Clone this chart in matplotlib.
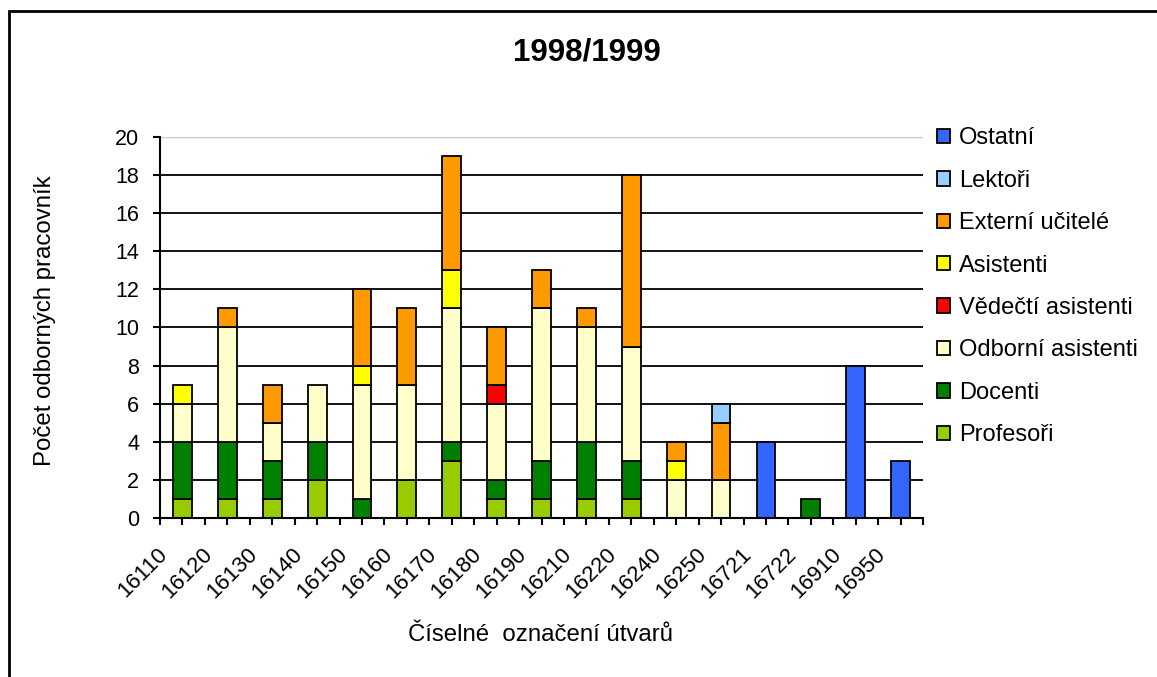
import matplotlib
matplotlib.use('Agg')
import matplotlib.pyplot as plt
import matplotlib.transforms as mtransforms
from matplotlib.patches import Rectangle, Patch
import numpy as np

plt.rcParams['font.family'] = ['Liberation Sans', 'DejaVu Sans']

# data
utvary = ['16110', '16120', '16130', '16140', '16150', '16160', '16170', '16180', '16190',
          '16210', '16220', '16240', '16250', '16721', '16722', '16910', '16950']
profesori = [1, 1, 1, 2, 0, 2, 3, 1, 1, 1, 1, 0, 0, 0, 0, 0, 0]
docenti   = [3, 3, 2, 2, 1, 0, 1, 1, 2, 3, 2, 0, 0, 0, 1, 0, 0]
odborni   = [2, 6, 2, 3, 6, 5, 7, 4, 8, 6, 6, 2, 2, 0, 0, 0, 0]
vedecti   = [0, 0, 0, 0, 0, 0, 0, 1, 0, 0, 0, 0, 0, 0, 0, 0, 0]
asistenti = [1, 0, 0, 0, 1, 0, 2, 0, 0, 0, 0, 1, 0, 0, 0, 0, 0]
externi   = [0, 1, 2, 0, 4, 4, 6, 3, 2, 1, 9, 1, 3, 0, 0, 0, 0]
lektori   = [0, 0, 0, 0, 0, 0, 0, 0, 0, 0, 0, 0, 1, 0, 0, 0, 0]
ostatni   = [0, 0, 0, 0, 0, 0, 0, 0, 0, 0, 0, 0, 0, 4, 0, 8, 3]

series = [
    ('Profesoři', profesori, '#99CC00'),
    ('Docenti', docenti, '#008000'),
    ('Odborní asistenti', odborni, '#FFFFCC'),
    ('Vědečtí asistenti', vedecti, '#FF0000'),
    ('Asistenti', asistenti, '#FFFF00'),
    ('Externí učitelé', externi, '#FF9900'),
    ('Lektoři', lektori, '#99CCFF'),
    ('Ostatní', ostatni, '#3366FF'),
]

fig = plt.figure(figsize=(11.57, 6.77), dpi=100)
ax = fig.add_axes([0.1383, 0.2349, 0.6595, 0.5627])

x = np.arange(len(utvary)) + 0.5
bottom = np.zeros(len(utvary))
for name, vals, col in series:
    v = np.array(vals, dtype=float)
    m = v > 0
    ax.bar(x[m], v[m], bottom=bottom[m], width=0.42, color=col,
           edgecolor='black', linewidth=1.3, zorder=3)
    bottom += v

ax.set_xlim(0, len(utvary))
ax.set_ylim(0, 20)
ax.set_yticks(range(0, 21, 2))
for yv in range(2, 20, 2):
    ax.axhline(yv, color='black', linewidth=1.3, zorder=1)
ax.axhline(20, color='#C8C8C8', linewidth=1.0, zorder=1)

for s in ['top', 'right']:
    ax.spines[s].set_visible(False)
for s in ['left', 'bottom']:
    ax.spines[s].set_linewidth(1.5)
    ax.spines[s].set_zorder(4)

ax.set_xticks(x)
ax.set_xticks(np.arange(len(utvary) + 1), minor=True)
ax.set_xticklabels(utvary, fontsize=16, rotation=45, ha='right',
                   rotation_mode='anchor', va='center')
ax.tick_params(axis='x', which='both', length=5, width=1.5, direction='out')
ax.tick_params(axis='x', which='major', pad=19)
ax.tick_params(axis='y', length=5, width=1.5, labelsize=15.5, pad=10)
off = mtransforms.ScaledTranslation(-0.18, 0, fig.dpi_scale_trans)
for lab in ax.get_xticklabels():
    lab.set_transform(lab.get_transform() + off)

fig.text(0.0385, 0.527, 'Počet odborných pracovník', fontsize=17.3, rotation=90,
         ha='center', va='center')
fig.text(0.4675, 0.062, 'Číselné  označení útvarů', fontsize=17.3, ha='center', va='center')
fig.text(0.507, 0.923, '1998/1999', fontsize=22.5, fontweight='bold', ha='center', va='center')

handles = [Patch(facecolor=c, edgecolor='black', linewidth=1.3, label=n)
           for n, v, c in reversed(series)]
fig.legend(handles=handles, loc='upper left', bbox_to_anchor=(0.8095, 0.812),
           frameon=False, fontsize=17, handlelength=0.56, handleheight=0.56,
           handletextpad=0.4, labelspacing=0.865, borderaxespad=0, borderpad=0)

# outer chart frame
fig.patches.append(Rectangle((0.0078, -0.1), 1.1, 1.0838, transform=fig.transFigure,
                             fill=False, edgecolor='black', linewidth=2))

fig.savefig('out.png', dpi=100)
